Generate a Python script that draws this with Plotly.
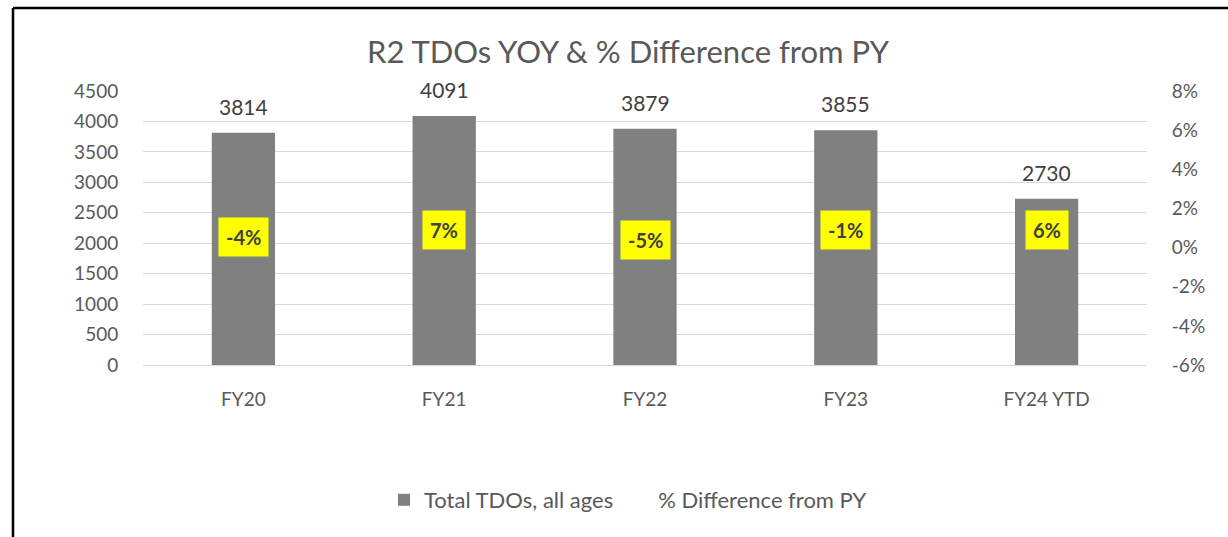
import plotly.graph_objects as go

categories = ["FY20", "FY21", "FY22", "FY23", "FY24 YTD"]
total_tdos = [3814, 4091, 3879, 3855, 2730]
pct_diff = [-0.04, 0.07, -0.05, -0.01, 0.06]
pct_labels = ["-4%", "7%", "-5%", "-1%", "6%"]
# vertical placement of the % labels (left-axis units, as in the source chart)
pct_label_pos = [2100, 2215, 2055, 2215, 2215]
y2_ticks = [-0.06, -0.04, -0.02, 0.0, 0.02, 0.04, 0.06, 0.08]
y2_ticktext = ["-6%", "-4%", "-2%", "0%", "2%", "4%", "6%", "8%"]

FONT = "Lato, 'Open Sans', sans-serif"
GRAY_TXT = "#595959"
DARK_TXT = "#404040"

fig = go.Figure()
fig.add_trace(go.Bar(
    x=categories, y=total_tdos, name="Total TDOs, all ages",
    marker=dict(color="#808080", line=dict(width=0)), width=0.315,
    yaxis="y", showlegend=True,
))
fig.add_trace(go.Scatter(
    x=categories, y=pct_diff, name="% Difference from PY",
    mode="lines", line=dict(width=0, color="rgba(0,0,0,0)"),
    yaxis="y2", showlegend=True, hoverinfo="skip",
))

annotations = []
for c, v in zip(categories, total_tdos):
    annotations.append(dict(
        x=c, y=v, xref="x", yref="y", text=str(v), showarrow=False,
        yanchor="bottom", yshift=12, font=dict(family=FONT, size=21, color=DARK_TXT),
    ))
for c, t, p in zip(categories, pct_labels, pct_label_pos):
    annotations.append(dict(
        x=c, y=p, xref="x", yref="y", text="<b>" + t + "</b>", showarrow=False,
        bgcolor="#FFFF00", borderpad=7,
        font=dict(family=FONT, size=20, color=DARK_TXT),
    ))

L, R, T, B = 143, 81, 91, 172
W, H = 1228, 537
pw, ph = W - L - R, H - T - B
def px_x(px):
    return (px - L) / pw
def px_y(py):
    return (H - B - py) / ph

shapes = [
    dict(type="line", xref="paper", yref="paper", x0=px_x(13), x1=px_x(1240),
         y0=px_y(8), y1=px_y(8), line=dict(color="black", width=2.5)),
    dict(type="line", xref="paper", yref="paper", x0=px_x(13), x1=px_x(13),
         y0=px_y(8), y1=px_y(545), line=dict(color="black", width=2.5)),
]

fig.update_layout(
    width=W, height=H,
    margin=dict(l=L, r=R, t=T, b=B),
    paper_bgcolor="white", plot_bgcolor="white",
    font=dict(family=FONT, color=GRAY_TXT),
    title=dict(text="R2 TDOs YOY & % Difference from PY", x=628 / W, xanchor="center",
               xref="container", y=1 - 52 / H, yanchor="middle", yref="container",
               font=dict(family=FONT, size=31, color=GRAY_TXT)),
    bargap=0.685,
    xaxis=dict(
        type="category", showgrid=False, showline=False, zeroline=False,
        ticks="outside", ticklen=17, tickcolor="rgba(0,0,0,0)",
        tickfont=dict(family=FONT, size=19, color=GRAY_TXT),
    ),
    yaxis=dict(
        range=[0, 4500], dtick=500, showgrid=True, gridcolor="#d9d9d9", gridwidth=1,
        zeroline=True, zerolinecolor="#d9d9d9", zerolinewidth=1, showline=False,
        ticks="outside", ticklen=20, tickcolor="rgba(0,0,0,0)",
        tickfont=dict(family=FONT, size=19, color=GRAY_TXT),
    ),
    yaxis2=dict(
        range=[-0.06, 0.08], tickmode="array", tickvals=y2_ticks, ticktext=y2_ticktext,
        overlaying="y", side="right",
        showgrid=False, zeroline=False, showline=False,
        ticks="outside", ticklen=20, tickcolor="rgba(0,0,0,0)",
        tickfont=dict(family=FONT, size=19, color=GRAY_TXT),
    ),
    legend=dict(orientation="h", x=px_x(628), xanchor="center", xref="paper",
                y=px_y(500), yanchor="middle",
                font=dict(family=FONT, size=22, color=GRAY_TXT),
                itemwidth=30, traceorder="normal"),
    annotations=annotations,
    shapes=shapes,
)

fig.write_html("out.html", config={"displayModeBar": False})

# remove the default page margin so the figure sits at the window origin
with open("out.html", "r", encoding="utf-8") as f:
    html = f.read()
html = html.replace("<head>", "<head><style>html,body{margin:0;padding:0;overflow:hidden;}</style>", 1)
with open("out.html", "w", encoding="utf-8") as f:
    f.write(html)
